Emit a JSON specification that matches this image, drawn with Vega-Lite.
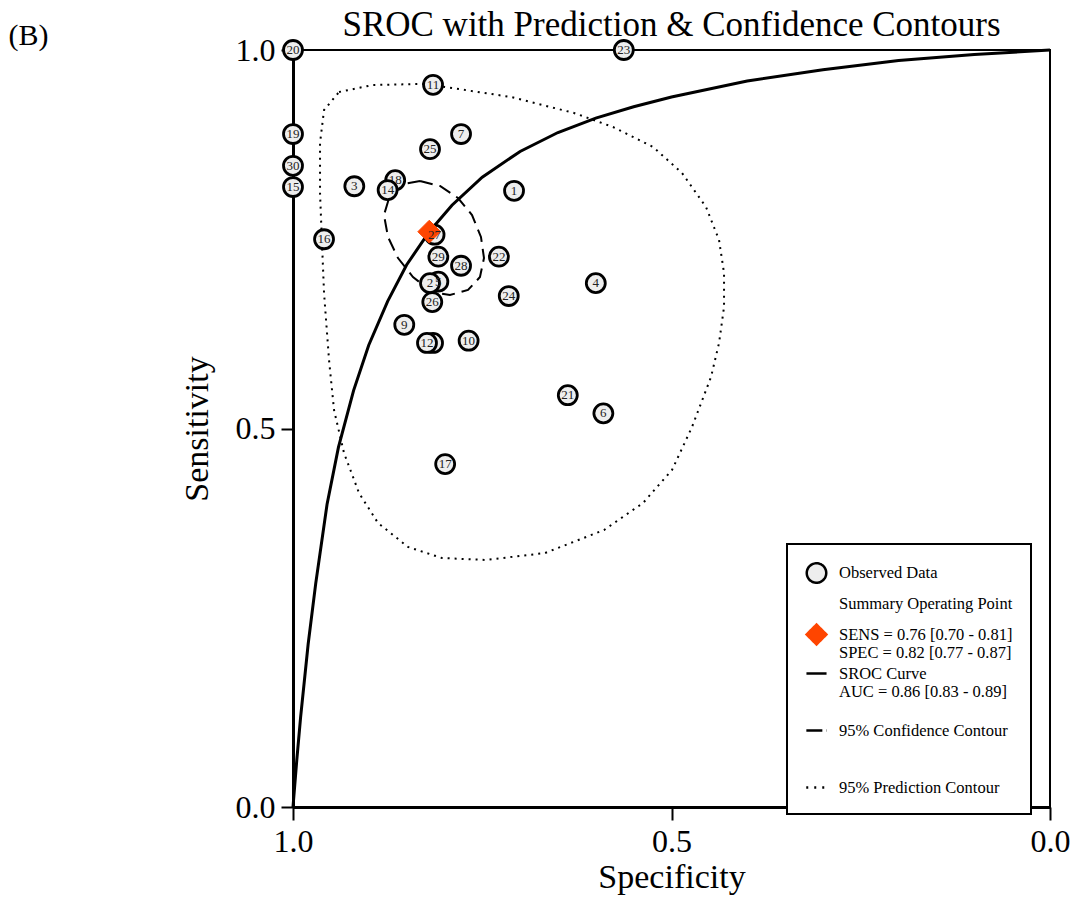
{
  "$schema": "https://vega.github.io/schema/vega-lite/v6.json",
  "width": 757,
  "height": 757,
  "autosize": {"type": "none"},
  "padding": {"left": 293, "top": 50, "right": 26, "bottom": 90},
  "background": "white",
  "title": {"text": "SROC with Prediction & Confidence Contours", "anchor": "middle", "frame": "group", "fontSize": 35, "font": "Liberation Serif", "fontWeight": "normal", "color": "black", "dy": 27},
  "config": {
    "font": "Liberation Serif",
    "view": {"stroke": "black", "strokeWidth": 2},
    "axis": {"grid": false, "domainColor": "black", "tickColor": "black", "labelColor": "black", "titleColor": "black", "labelFont": "Liberation Serif", "titleFont": "Liberation Serif", "titleFontWeight": "normal"},
    "legend": {"strokeWidth": 2}
  },
  "datasets": {
    "pts": [
      {"id": "1", "spec": 0.708, "sens": 0.814, "cl": 1, "tl": 1},
      {"id": "2", "spec": 0.819, "sens": 0.692, "cl": 1, "tl": 1},
      {"id": "3", "spec": 0.919, "sens": 0.820, "cl": 1, "tl": 1},
      {"id": "4", "spec": 0.600, "sens": 0.692, "cl": 1, "tl": 1},
      {"id": "5", "spec": 0.808, "sens": 0.694, "cl": 0, "tl": 1},
      {"id": "6", "spec": 0.590, "sens": 0.520, "cl": 1, "tl": 1},
      {"id": "7", "spec": 0.778, "sens": 0.889, "cl": 1, "tl": 1},
      {"id": "8", "spec": 0.815, "sens": 0.613, "cl": 0, "tl": 0},
      {"id": "9", "spec": 0.853, "sens": 0.637, "cl": 1, "tl": 1},
      {"id": "10", "spec": 0.768, "sens": 0.616, "cl": 1, "tl": 1},
      {"id": "11", "spec": 0.815, "sens": 0.954, "cl": 1, "tl": 1},
      {"id": "12", "spec": 0.823, "sens": 0.613, "cl": 1, "tl": 1},
      {"id": "14", "spec": 0.875, "sens": 0.815, "cl": 1, "tl": 1},
      {"id": "15", "spec": 1.0, "sens": 0.819, "cl": 1, "tl": 1},
      {"id": "16", "spec": 0.959, "sens": 0.750, "cl": 1, "tl": 1},
      {"id": "17", "spec": 0.799, "sens": 0.453, "cl": 1, "tl": 1},
      {"id": "18", "spec": 0.865, "sens": 0.828, "cl": 0, "tl": 0},
      {"id": "19", "spec": 1.0, "sens": 0.889, "cl": 1, "tl": 1},
      {"id": "20", "spec": 1.0, "sens": 1.0, "cl": 1, "tl": 1},
      {"id": "21", "spec": 0.637, "sens": 0.544, "cl": 1, "tl": 1},
      {"id": "22", "spec": 0.728, "sens": 0.727, "cl": 1, "tl": 1},
      {"id": "23", "spec": 0.563, "sens": 1.0, "cl": 1, "tl": 1},
      {"id": "24", "spec": 0.715, "sens": 0.675, "cl": 1, "tl": 1},
      {"id": "25", "spec": 0.819, "sens": 0.869, "cl": 1, "tl": 1},
      {"id": "26", "spec": 0.816, "sens": 0.667, "cl": 1, "tl": 1},
      {"id": "27", "spec": 0.813, "sens": 0.756, "cl": 1, "tl": 1},
      {"id": "28", "spec": 0.778, "sens": 0.715, "cl": 1, "tl": 1},
      {"id": "29", "spec": 0.808, "sens": 0.727, "cl": 1, "tl": 1},
      {"id": "30", "spec": 1.0, "sens": 0.847, "cl": 1, "tl": 1}
    ],
    "summary": [{"spec": 0.82, "sens": 0.76}],
    "sroc": [
      {"spec": 1.0, "sens": 0.0}, {"spec": 0.998, "sens": 0.025}, {"spec": 0.995, "sens": 0.062},
      {"spec": 0.99, "sens": 0.118}, {"spec": 0.98, "sens": 0.215}, {"spec": 0.97, "sens": 0.295},
      {"spec": 0.955, "sens": 0.400}, {"spec": 0.94, "sens": 0.475}, {"spec": 0.92, "sens": 0.550},
      {"spec": 0.90, "sens": 0.610}, {"spec": 0.875, "sens": 0.668}, {"spec": 0.85, "sens": 0.716},
      {"spec": 0.82, "sens": 0.760}, {"spec": 0.79, "sens": 0.795}, {"spec": 0.75, "sens": 0.832},
      {"spec": 0.70, "sens": 0.866}, {"spec": 0.65, "sens": 0.891}, {"spec": 0.60, "sens": 0.910},
      {"spec": 0.55, "sens": 0.925}, {"spec": 0.50, "sens": 0.938}, {"spec": 0.40, "sens": 0.959},
      {"spec": 0.30, "sens": 0.974}, {"spec": 0.20, "sens": 0.986}, {"spec": 0.10, "sens": 0.994},
      {"spec": 0.0, "sens": 1.0}
    ],
    "ci": [
      {"o": 0, "spec": 0.8322, "sens": 0.8270}, {"o": 1, "spec": 0.8058, "sens": 0.8203},
      {"o": 2, "spec": 0.7820, "sens": 0.8045}, {"o": 3, "spec": 0.7635, "sens": 0.7820},
      {"o": 4, "spec": 0.7517, "sens": 0.7530}, {"o": 5, "spec": 0.7477, "sens": 0.7252},
      {"o": 6, "spec": 0.7530, "sens": 0.7001}, {"o": 7, "spec": 0.7688, "sens": 0.6830},
      {"o": 8, "spec": 0.7926, "sens": 0.6764}, {"o": 9, "spec": 0.8164, "sens": 0.6803},
      {"o": 10, "spec": 0.8415, "sens": 0.7001}, {"o": 11, "spec": 0.8613, "sens": 0.7252},
      {"o": 12, "spec": 0.8745, "sens": 0.7530}, {"o": 13, "spec": 0.8798, "sens": 0.7820},
      {"o": 14, "spec": 0.8719, "sens": 0.8085}, {"o": 15, "spec": 0.8547, "sens": 0.8230},
      {"o": 16, "spec": 0.8322, "sens": 0.8270}
    ],
    "pi": [
      {"o": 0, "spec": 0.9392, "sens": 0.9445}, {"o": 1, "spec": 0.8943, "sens": 0.9538},
      {"o": 2, "spec": 0.8296, "sens": 0.9551}, {"o": 3, "spec": 0.7900, "sens": 0.9498},
      {"o": 4, "spec": 0.7120, "sens": 0.9379}, {"o": 5, "spec": 0.6288, "sens": 0.9168},
      {"o": 6, "spec": 0.5773, "sens": 0.8983}, {"o": 7, "spec": 0.5244, "sens": 0.8719},
      {"o": 8, "spec": 0.4861, "sens": 0.8375}, {"o": 9, "spec": 0.4544, "sens": 0.7926},
      {"o": 10, "spec": 0.4372, "sens": 0.7490}, {"o": 11, "spec": 0.4306, "sens": 0.7054},
      {"o": 12, "spec": 0.4306, "sens": 0.6605}, {"o": 13, "spec": 0.4372, "sens": 0.6129},
      {"o": 14, "spec": 0.4478, "sens": 0.5680}, {"o": 15, "spec": 0.4729, "sens": 0.5020},
      {"o": 16, "spec": 0.4993, "sens": 0.4452}, {"o": 17, "spec": 0.5376, "sens": 0.4016},
      {"o": 18, "spec": 0.5892, "sens": 0.3659}, {"o": 19, "spec": 0.6671, "sens": 0.3355},
      {"o": 20, "spec": 0.7450, "sens": 0.3263}, {"o": 21, "spec": 0.8032, "sens": 0.3289},
      {"o": 22, "spec": 0.8481, "sens": 0.3435}, {"o": 23, "spec": 0.8877, "sens": 0.3752},
      {"o": 24, "spec": 0.9128, "sens": 0.4148}, {"o": 25, "spec": 0.9326, "sens": 0.4676},
      {"o": 26, "spec": 0.9458, "sens": 0.5244}, {"o": 27, "spec": 0.9524, "sens": 0.5905},
      {"o": 28, "spec": 0.9590, "sens": 0.6790}, {"o": 29, "spec": 0.9617, "sens": 0.7451},
      {"o": 30, "spec": 0.9643, "sens": 0.8111}, {"o": 31, "spec": 0.9643, "sens": 0.8771},
      {"o": 32, "spec": 0.9590, "sens": 0.9207}, {"o": 33, "spec": 0.9392, "sens": 0.9445}
    ],
    "leg": [
      {"entry": "Observed Data"},
      {"entry": "Summary Operating Point"},
      {"entry": "SENS = 0.76 [0.70 - 0.81]|SPEC = 0.82 [0.77 - 0.87]"},
      {"entry": "SROC Curve|AUC = 0.86 [0.83 - 0.89]|"},
      {"entry": "95% Confidence Contour||"},
      {"entry": "95% Prediction Contour"}
    ]
  },
  "resolve": {"axis": {"x": "independent", "y": "independent"}},
  "layer": [
    {
      "data": {"name": "pi"},
      "mark": {"type": "line", "stroke": "black", "strokeWidth": 2, "strokeDash": [2, 5]},
      "encoding": {
        "x": {"field": "spec", "type": "quantitative", "scale": {"domain": [0, 1], "reverse": true, "nice": false, "zero": false},
          "axis": {"orient": "bottom", "values": [0, 0.5, 1], "format": ".1f", "title": "Specificity", "titleFontSize": 34, "titlePadding": 3, "labelFontSize": 32, "labelPadding": 6, "tickSize": 13, "tickWidth": 2, "domainWidth": 3, "labelFlush": false, "labelOverlap": false}},
        "y": {"field": "sens", "type": "quantitative", "scale": {"domain": [0, 1], "nice": false, "zero": false},
          "axis": {"orient": "left", "values": [0, 0.5, 1], "format": ".1f", "title": "Sensitivity", "titleFontSize": 34, "titlePadding": 21, "labelFontSize": 32, "labelPadding": 6, "tickSize": 12, "tickWidth": 2, "domainWidth": 3, "labelFlush": false, "labelOverlap": false}},
        "order": {"field": "o", "type": "quantitative"}
      }
    },
    {
      "data": {"name": "ci"},
      "mark": {"type": "line", "stroke": "black", "strokeWidth": 2, "strokeDash": [13, 7]},
      "encoding": {
        "x": {"field": "spec", "type": "quantitative", "axis": null},
        "y": {"field": "sens", "type": "quantitative", "axis": null},
        "order": {"field": "o", "type": "quantitative"}
      }
    },
    {
      "data": {"name": "sroc"},
      "mark": {"type": "line", "stroke": "black", "strokeWidth": 3},
      "encoding": {
        "x": {"field": "spec", "type": "quantitative", "axis": null},
        "y": {"field": "sens", "type": "quantitative", "axis": null}
      }
    },
    {
      "data": {"name": "pts"},
      "transform": [{"filter": "datum.cl == 0"}],
      "mark": {"type": "point", "shape": "circle", "filled": true, "fill": "#eeeeee", "stroke": "black", "strokeWidth": 2.8, "size": 360, "opacity": 1},
      "encoding": {
        "x": {"field": "spec", "type": "quantitative", "axis": null},
        "y": {"field": "sens", "type": "quantitative", "axis": null}
      }
    },
    {
      "data": {"name": "pts"},
      "transform": [{"filter": "datum.tl == 0"}],
      "mark": {"type": "text", "fontSize": 13, "color": "#222222", "font": "Liberation Serif", "baseline": "middle", "align": "center"},
      "encoding": {
        "x": {"field": "spec", "type": "quantitative", "axis": null},
        "y": {"field": "sens", "type": "quantitative", "axis": null},
        "text": {"field": "id", "type": "nominal"}
      }
    },
    {
      "data": {"name": "pts"},
      "transform": [{"filter": "datum.cl == 1"}],
      "mark": {"type": "point", "shape": "circle", "filled": true, "fill": "#eeeeee", "stroke": "black", "strokeWidth": 2.8, "size": 360, "opacity": 1},
      "encoding": {
        "x": {"field": "spec", "type": "quantitative", "axis": null},
        "y": {"field": "sens", "type": "quantitative", "axis": null}
      }
    },
    {
      "data": {"name": "summary"},
      "mark": {"type": "point", "shape": "diamond", "filled": true, "fill": "#ff4500", "stroke": "#ff4500", "strokeWidth": 1, "size": 520, "opacity": 1},
      "encoding": {
        "x": {"field": "spec", "type": "quantitative",
          "axis": {"orient": "top", "title": "(B)", "labels": false, "ticks": false, "domain": false, "grid": false, "titleX": -285, "titleY": -6, "titleAlign": "left", "titleBaseline": "alphabetic", "titleFontSize": 30, "titleAngle": 0}},
        "y": {"field": "sens", "type": "quantitative", "axis": null}
      }
    },
    {
      "data": {"name": "pts"},
      "transform": [{"filter": "datum.tl == 1"}],
      "mark": {"type": "text", "fontSize": 13, "color": "#222222", "font": "Liberation Serif", "baseline": "middle", "align": "center"},
      "encoding": {
        "x": {"field": "spec", "type": "quantitative", "axis": null},
        "y": {"field": "sens", "type": "quantitative", "axis": null},
        "text": {"field": "id", "type": "nominal"}
      }
    },
    {
      "data": {"name": "leg"},
      "transform": [{"filter": "false"}],
      "mark": {"type": "point", "filled": true, "strokeWidth": 2.5, "opacity": 1},
      "encoding": {
        "shape": {"field": "entry", "type": "nominal",
          "scale": {"domain": ["Observed Data", "Summary Operating Point", "SENS = 0.76 [0.70 - 0.81]|SPEC = 0.82 [0.77 - 0.87]", "SROC Curve|AUC = 0.86 [0.83 - 0.89]|", "95% Confidence Contour||", "95% Prediction Contour"],
            "range": ["circle", "circle", "diamond", "stroke", "stroke", "stroke"]},
          "legend": {"orient": "none", "legendX": 494, "legendY": 494, "title": null, "strokeColor": "black", "fillColor": "white", "padding": 18, "rowPadding": 0, "labelFont": "Liberation Serif", "labelFontSize": 16.5, "labelColor": "black", "labelLimit": 400, "labelOffset": 11, "symbolStrokeWidth": 2.5, "symbolOpacity": 1, "labelExpr": "split(datum.label, '|')"}},
        "fill": {"field": "entry", "type": "nominal",
          "scale": {"domain": ["Observed Data", "Summary Operating Point", "SENS = 0.76 [0.70 - 0.81]|SPEC = 0.82 [0.77 - 0.87]", "SROC Curve|AUC = 0.86 [0.83 - 0.89]|", "95% Confidence Contour||", "95% Prediction Contour"],
            "range": ["#eeeeee", "transparent", "#ff4500", "transparent", "transparent", "transparent"]}},
        "stroke": {"field": "entry", "type": "nominal",
          "scale": {"domain": ["Observed Data", "Summary Operating Point", "SENS = 0.76 [0.70 - 0.81]|SPEC = 0.82 [0.77 - 0.87]", "SROC Curve|AUC = 0.86 [0.83 - 0.89]|", "95% Confidence Contour||", "95% Prediction Contour"],
            "range": ["black", "transparent", "#ff4500", "black", "black", "black"]}},
        "strokeDash": {"field": "entry", "type": "nominal",
          "scale": {"domain": ["Observed Data", "Summary Operating Point", "SENS = 0.76 [0.70 - 0.81]|SPEC = 0.82 [0.77 - 0.87]", "SROC Curve|AUC = 0.86 [0.83 - 0.89]|", "95% Confidence Contour||", "95% Prediction Contour"],
            "range": [[1, 0], [1, 0], [1, 0], [1, 0], [16, 4], [2, 6]]}},
        "size": {"field": "entry", "type": "nominal",
          "scale": {"domain": ["Observed Data", "Summary Operating Point", "SENS = 0.76 [0.70 - 0.81]|SPEC = 0.82 [0.77 - 0.87]", "SROC Curve|AUC = 0.86 [0.83 - 0.89]|", "95% Confidence Contour||", "95% Prediction Contour"],
            "range": [380, 420]}}
      }
    }
  ]
}
